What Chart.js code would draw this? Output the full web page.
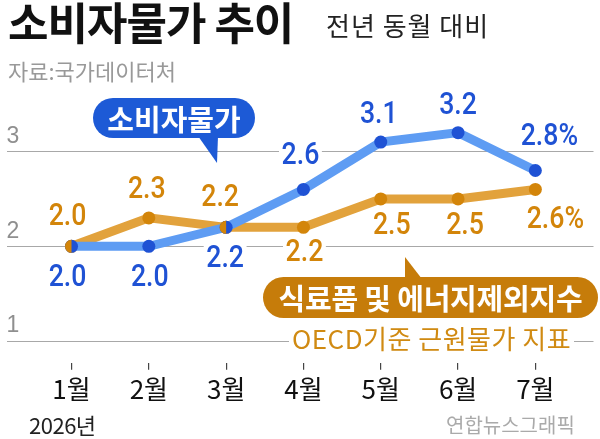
<!DOCTYPE html>
<html>
<head>
<meta charset="utf-8">
<script src="https://cdn.jsdelivr.net/npm/chart.js@4.4.1/dist/chart.umd.min.js"></script>
<style>
  body { margin: 0; background: #fff; }
  #wrap { position: relative; width: 600px; height: 439px; overflow: hidden; background: #fff; }
  #wrap div { position: absolute; white-space: nowrap; line-height: 1; font-family: "Noto Sans CJK KR", sans-serif; }
  .title { left: 8px; top: -1px; font-size: 44px; font-weight: 700; letter-spacing: -1px; color: #111; }
  .sub { left: 326px; top: 12px; font-size: 26px; letter-spacing: 1px; color: #222; }
  .src { left: 8px; top: 59px; font-size: 22px; color: #999; }
  .bubble { color: #fff; font-weight: 700; font-size: 29px; text-align: center; }
  .blue { left: 93px; top: 98px; width: 162px; height: 40px; line-height: 40px !important; border-radius: 20px; background: #1d5ad6; }
  .blue-tip { left: 198px; top: 136px; width: 20px; height: 27px; background: #1d5ad6; clip-path: polygon(0 0, 100% 0, 95% 100%); }
  .orange { left: 263px; top: 277px; width: 335px; height: 41px; line-height: 41px !important; border-radius: 21px; background: #c67c0a; letter-spacing: -0.2px; }
  .orange-tip { left: 405px; top: 257px; width: 17px; height: 22px; background: #c67c0a; clip-path: polygon(0 0, 0 100%, 100% 100%); }
  .note { left: 289px; top: 325px; font-size: 26px; letter-spacing: 0.5px; color: #d08a12; background: #fff; padding: 0 3px; }
  .year { left: 29px; top: 413px; font-size: 22px; letter-spacing: -0.5px; color: #222; }
  .credit { left: 446px; top: 415px; font-size: 20px; color: #aaa; }
</style>
</head>
<body>
<div id="wrap">
  <canvas id="chart" width="600" height="439"></canvas>
  <div class="title">소비자물가 추이</div>
  <div class="sub">전년 동월 대비</div>
  <div class="src">자료:국가데이터처</div>
  <div class="blue-tip"></div>
  <div class="bubble blue">소비자물가</div>
  <div class="orange-tip"></div>
  <div class="bubble orange">식료품 및 에너지제외지수</div>
  <div class="note">OECD기준 근원물가 지표</div>
  <div class="year">2026년</div>
  <div class="credit">연합뉴스그래픽</div>
</div>
<script>
// values (%, year on year)
const months = ['1월', '2월', '3월', '4월', '5월', '6월', '7월'];
const cpi = [2.0, 2.0, 2.2, 2.6, 3.1, 3.2, 2.8];
const core = [2.0, 2.3, 2.2, 2.2, 2.5, 2.5, 2.6];
const yTicks = [1, 2, 3];

// where each value label sits relative to its point
const cpiLabelPos = [[-4, 31], [1, 31], [-1, 31], [-3, -34], [-2, -28], [0, -27], [14, -34]];
const coreLabelPos = [[-4, -30], [-2, -29], [-6, -30], [1, 25], [11, 26], [7, 26], [20, 30]];

const BLUE_LINE = '#5e9cf3';
const BLUE_DOT = '#1f52d4';
const ORANGE_LINE = '#e2a23c';
const ORANGE_DOT = '#d3850a';

// value labels with a white box behind them (they cut the grid lines)
const valueLabels = {
  id: 'valueLabels',
  afterDatasetsDraw(chart) {
    const ctx = chart.ctx;
    const sets = [[0, cpi, cpiLabelPos, BLUE_DOT], [1, core, coreLabelPos, ORANGE_DOT]];
    ctx.save();
    ctx.font = '500 31px Roboto';
    ctx.textAlign = 'center';
    ctx.textBaseline = 'middle';
    sets.forEach(([idx, vals, pos, color]) => {
      const meta = chart.getDatasetMeta(idx);
      vals.forEach((v, i) => {
        const pt = meta.data[i];
        const txt = v.toFixed(1) + (i === vals.length - 1 ? '%' : '');
        const w = ctx.measureText(txt).width;
        ctx.save();
        ctx.translate(pt.x + pos[i][0], pt.y + pos[i][1]);
        ctx.scale(0.86, 1);
        ctx.fillStyle = '#fff';
        ctx.fillRect(-w / 2 - 3, -13, w + 6, 26);
        ctx.fillStyle = color;
        ctx.fillText(txt, 0, 1);
        ctx.restore();
      });
    });
    ctx.restore();
  }
};

// where both series meet, the dot is half orange / half blue
const splitDots = {
  id: 'splitDots',
  afterDatasetsDraw(chart) {
    const ctx = chart.ctx;
    const meta = chart.getDatasetMeta(0);
    ctx.save();
    ctx.fillStyle = ORANGE_DOT;
    cpi.forEach((v, i) => {
      if (v !== core[i]) return;
      const pt = meta.data[i];
      ctx.beginPath();
      ctx.arc(pt.x, pt.y, 6.5, Math.PI / 2, Math.PI * 1.5);
      ctx.closePath();
      ctx.fill();
    });
    ctx.restore();
  }
};

new Chart(document.getElementById('chart'), {
  type: 'line',
  data: {
    datasets: [{
      label: '소비자물가',
      data: cpi.map((v, i) => ({ x: i, y: v })),
      borderColor: BLUE_LINE,
      borderWidth: 9,
      pointRadius: 6.5,
      pointBorderWidth: 0,
      pointBackgroundColor: BLUE_DOT,
      tension: 0
    }, {
      label: '식료품 및 에너지제외지수',
      data: core.map((v, i) => ({ x: i, y: v })),
      borderColor: ORANGE_LINE,
      borderWidth: 9,
      pointRadius: 6.5,
      pointBorderWidth: 0,
      pointBackgroundColor: ORANGE_DOT,
      tension: 0
    }]
  },
  options: {
    responsive: false,
    animation: false,
    layout: { padding: { top: 90, bottom: 30, left: 0, right: 4 } },
    plugins: { legend: { display: false }, tooltip: { enabled: false } },
    scales: {
      x: {
        type: 'linear',
        min: -0.841,
        max: 6.752,
        afterBuildTicks: s => { s.ticks = months.map((m, i) => ({ value: i })); },
        border: { display: false },
        grid: { drawOnChartArea: false, drawTicks: true, tickLength: 7, color: '#444', lineWidth: 1.2 },
        ticks: {
          callback: v => months[v],
          color: '#111',
          padding: 4,
          maxRotation: 0,
          autoSkip: false,
          font: { family: 'Noto Sans CJK KR', size: 26 }
        }
      },
      y: {
        min: 0.77,
        max: 3.65,
        afterBuildTicks: s => { s.ticks = yTicks.map(v => ({ value: v })); },
        border: { display: false },
        grid: { color: '#a8a8a8', lineWidth: 1, drawTicks: false },
        ticks: {
          mirror: true,
          padding: 0,
          labelOffset: -15,
          color: '#8f8f8f',
          font: { family: 'Liberation Sans', size: 23 }
        }
      }
    }
  },
  plugins: [valueLabels, splitDots]
});
</script>
</body>
</html>
